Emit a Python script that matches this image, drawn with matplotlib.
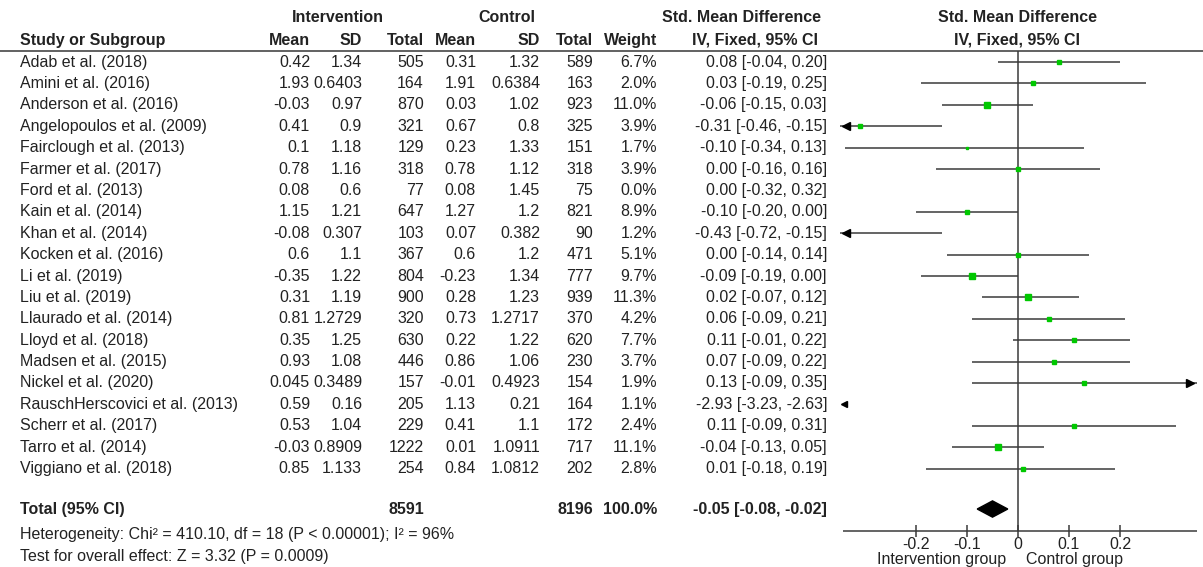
import matplotlib.pyplot as plt
from matplotlib.patches import Polygon

plt.rcParams['font.family'] = ['Liberation Sans', 'DejaVu Sans']

studies = ["Adab et al. (2018)", "Amini et al. (2016)", "Anderson et al. (2016)",
           "Angelopoulos et al. (2009)", "Fairclough et al. (2013)", "Farmer et al. (2017)",
           "Ford et al. (2013)", "Kain et al. (2014)", "Khan et al. (2014)",
           "Kocken et al. (2016)", "Li et al. (2019)", "Liu et al. (2019)",
           "Llaurado et al. (2014)", "Lloyd et al. (2018)", "Madsen et al. (2015)",
           "Nickel et al. (2020)", "RauschHerscovici et al. (2013)", "Scherr et al. (2017)",
           "Tarro et al. (2014)", "Viggiano et al. (2018)"]
int_mean = [0.42, 1.93, -0.03, 0.41, 0.1, 0.78, 0.08, 1.15, -0.08, 0.6,
            -0.35, 0.31, 0.81, 0.35, 0.93, 0.045, 0.59, 0.53, -0.03, 0.85]
int_sd = [1.34, 0.6403, 0.97, 0.9, 1.18, 1.16, 0.6, 1.21, 0.307, 1.1,
          1.22, 1.19, 1.2729, 1.25, 1.08, 0.3489, 0.16, 1.04, 0.8909, 1.133]
int_n = [505, 164, 870, 321, 129, 318, 77, 647, 103, 367,
         804, 900, 320, 630, 446, 157, 205, 229, 1222, 254]
ctl_mean = [0.31, 1.91, 0.03, 0.67, 0.23, 0.78, 0.08, 1.27, 0.07, 0.6,
            -0.23, 0.28, 0.73, 0.22, 0.86, -0.01, 1.13, 0.41, 0.01, 0.84]
ctl_sd = [1.32, 0.6384, 1.02, 0.8, 1.33, 1.12, 1.45, 1.2, 0.382, 1.2,
          1.34, 1.23, 1.2717, 1.22, 1.06, 0.4923, 0.21, 1.1, 1.0911, 1.0812]
ctl_n = [589, 163, 923, 325, 151, 318, 75, 821, 90, 471,
         777, 939, 370, 620, 230, 154, 164, 172, 717, 202]
weight = [6.7, 2.0, 11.0, 3.9, 1.7, 3.9, 0.0, 8.9, 1.2, 5.1,
          9.7, 11.3, 4.2, 7.7, 3.7, 1.9, 1.1, 2.4, 11.1, 2.8]
smd = [0.08, 0.03, -0.06, -0.31, -0.10, 0.00, 0.00, -0.10, -0.43, 0.00,
       -0.09, 0.02, 0.06, 0.11, 0.07, 0.13, -2.93, 0.11, -0.04, 0.01]
ci_lo = [-0.04, -0.19, -0.15, -0.46, -0.34, -0.16, -0.32, -0.20, -0.72, -0.14,
         -0.19, -0.07, -0.09, -0.01, -0.09, -0.09, -3.23, -0.09, -0.13, -0.18]
ci_hi = [0.20, 0.25, 0.03, -0.15, 0.13, 0.16, 0.32, 0.00, -0.15, 0.14,
         0.00, 0.12, 0.21, 0.22, 0.22, 0.35, -2.63, 0.31, 0.05, 0.19]

total_n_int, total_n_ctl = 8591, 8196
total_smd, total_lo, total_hi = -0.05, -0.08, -0.02
heterogeneity = "Heterogeneity: Chi\u00b2 = 410.10, df = 18 (P < 0.00001); I\u00b2 = 96%"
overall = "Test for overall effect: Z = 3.32 (P = 0.0009)"
ticks = [-0.2, -0.1, 0, 0.1, 0.2]
tick_labels = ["-0.2", "-0.1", "0", "0.1", "0.2"]

TXT = "#222222"
LINE = "#3a3a3a"
FS = 11.5

fig = plt.figure(figsize=(12.03, 5.67), dpi=100)
ylim = (23.6, -2.9)

# table part, x in pixel columns
tab = fig.add_axes([0, 0, 1, 1])
tab.set_xlim(0, 1203)
tab.set_ylim(*ylim)
tab.axis("off")

# forest part, x in SMD units
xmin, xmax = -0.35, 0.35
fx = fig.add_axes([839.5 / 1203, 0, 357 / 1203, 1])
fx.set_xlim(xmin, xmax)
fx.set_ylim(*ylim)
fx.axis("off")

# headers
hdr = dict(fontsize=FS, fontweight="bold", color=TXT, va="center")
tab.text(338, -2.06, "Intervention", ha="center", **hdr)
tab.text(507, -2.06, "Control", ha="center", **hdr)
tab.text(742, -2.06, "Std. Mean Difference", ha="center", **hdr)
tab.text(1017, -2.06, "Std. Mean Difference", ha="center", **hdr)
tab.text(20, -1.03, "Study or Subgroup", ha="left", **hdr)
for x, s in [(310, "Mean"), (362, "SD"), (424, "Total"), (476, "Mean"),
             (540, "SD"), (593, "Total"), (657, "Weight"), (818, "IV, Fixed, 95% CI")]:
    tab.text(x, -1.03, s, ha="right", **hdr)
tab.text(1017, -1.03, "IV, Fixed, 95% CI", ha="center", **hdr)
tab.hlines(-0.5, 0, 1203, color="#555555", lw=1.3)

# rows
cell = dict(fontsize=FS, color=TXT, va="center", ha="right")
for i, name in enumerate(studies):
    tab.text(20, i, name, fontsize=FS, color=TXT, va="center", ha="left")
    tab.text(310, i, str(int_mean[i]), **cell)
    tab.text(362, i, str(int_sd[i]), **cell)
    tab.text(424, i, str(int_n[i]), **cell)
    tab.text(476, i, str(ctl_mean[i]), **cell)
    tab.text(540, i, str(ctl_sd[i]), **cell)
    tab.text(593, i, str(ctl_n[i]), **cell)
    tab.text(657, i, f"{weight[i]:.1f}%", **cell)
    tab.text(827, i, f"{smd[i]:.2f} [{ci_lo[i]:.2f}, {ci_hi[i]:.2f}]", **cell)

# totals and footnotes
tot_y = len(studies) + 0.89
tab.text(20, tot_y, "Total (95% CI)", ha="left", **hdr)
tab.text(424, tot_y, str(total_n_int), ha="right", **hdr)
tab.text(593, tot_y, str(total_n_ctl), ha="right", **hdr)
tab.text(657, tot_y, "100.0%", ha="right", **hdr)
tab.text(827, tot_y, f"{total_smd:.2f} [{total_lo:.2f}, {total_hi:.2f}]", ha="right", **hdr)
tab.text(20, tot_y + 1.2, heterogeneity, fontsize=FS, color=TXT, va="center")
tab.text(20, tot_y + 2.2, overall, fontsize=FS, color=TXT, va="center")

# forest lines
axis_y = len(studies) + 1.92
fx.vlines(0, -0.5, axis_y, color=LINE, lw=1.1)
for i in range(len(studies)):
    if weight[i] == 0:
        continue
    if ci_hi[i] < xmin:
        fx.plot(xmin + 0.008, i, marker="<", color="black", ms=5, clip_on=False)
        continue
    lo, hi = max(ci_lo[i], xmin), min(ci_hi[i], xmax)
    fx.hlines(i, lo, hi, color=LINE, lw=1.1)
    if ci_lo[i] < xmin:
        fx.plot(xmin + 0.012, i, marker="<", color="black", ms=6, clip_on=False)
    if ci_hi[i] >= xmax:
        fx.plot(xmax - 0.012, i, marker=">", color="black", ms=6, clip_on=False)
    if xmin <= smd[i] <= xmax:
        fx.plot(smd[i], i, marker="s", color="#00c800", mec="#00c800",
                ms=1.0 + 0.85 * weight[i] ** 0.5, lw=0)

# total diamond
fx.add_patch(Polygon([(total_lo, tot_y), (total_smd, tot_y - 0.38),
                      (total_hi, tot_y), (total_smd, tot_y + 0.38)],
                     closed=True, color="black"))

# bottom axis
fx.hlines(axis_y, xmin + 0.006, xmax, color=LINE, lw=1.1)
for t, lab in zip(ticks, tick_labels):
    fx.vlines(t, axis_y - 0.3, axis_y + 0.3, color=LINE, lw=1.1)
    fx.text(t, axis_y + 0.64, lab, fontsize=FS, color=TXT, ha="center", va="center")
fx.text(-0.149, axis_y + 1.32, "Intervention group", fontsize=FS, color=TXT,
        ha="center", va="center")
fx.text(0.11, axis_y + 1.32, "Control group", fontsize=FS, color=TXT,
        ha="center", va="center")

fig.savefig("out.png", dpi=100, facecolor="white")
